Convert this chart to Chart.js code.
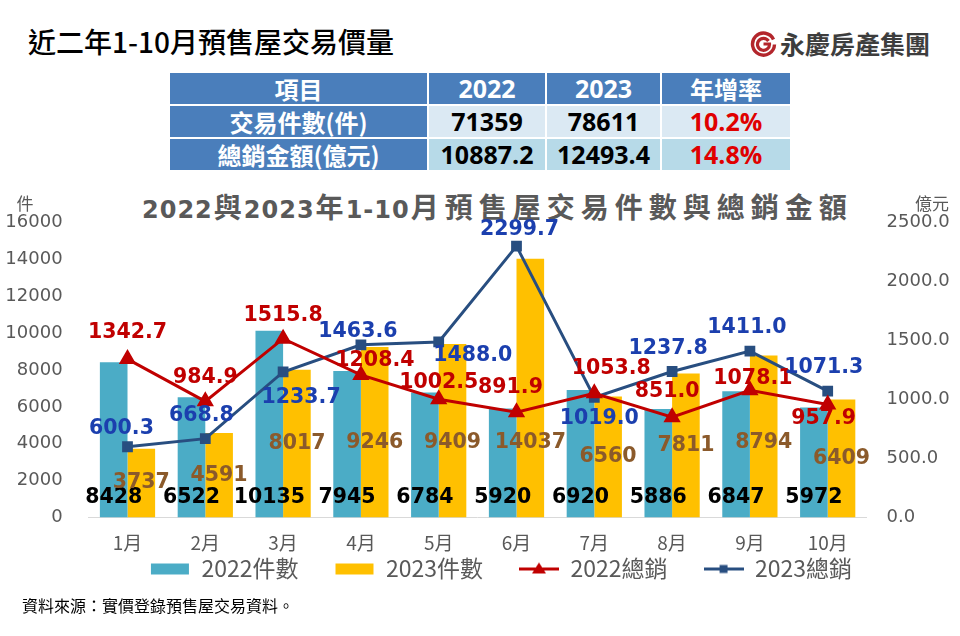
<!DOCTYPE html>
<html>
<head>
<meta charset="utf-8">
<script src="https://cdn.jsdelivr.net/npm/chart.js@4.4.0/dist/chart.umd.min.js"></script>
<style>
  body { margin:0; width:960px; height:636px; background:#fff; position:relative; overflow:hidden;
         font-family:"Noto Sans CJK TC", sans-serif; }
  #title { position:absolute; left:28px; top:21px; font-size:28px; font-weight:500; color:#000; line-height:40px; }
  #logo { position:absolute; left:750px; top:27px; height:32px; display:flex; align-items:center; }
  #logo span { font-size:25px; font-weight:700; color:#3d3d3d; margin-left:3px; line-height:32px; }
  table { position:absolute; left:168px; top:71px; border-collapse:separate; border-spacing:2px; table-layout:fixed; }
  td { height:31px; padding:0; text-align:center; font-weight:700; line-height:31px; }
  td.h { background:#4a7ebb; color:#fff; font-size:24px; }
  td.n { font-family:"Open Sans","Noto Sans CJK TC",sans-serif; font-size:25px; }
  td.h.n { font-size:25px; }
  tr.r1 td.v { background:#dbe9f3; color:#000; }
  tr.r2 td.v { background:#b7dae8; color:#000; }
  td.red { color:#e00000 !important; }
  #ctitle { position:absolute; left:142px; top:190px; color:#595959; white-space:nowrap; line-height:32px; font-weight:700; }
  #ctitle .d { font-family:"DejaVu Sans",sans-serif; font-size:24px; letter-spacing:1px; margin-right:1px; }
  #ctitle .c { font-family:"Noto Sans CJK TC",sans-serif; font-size:28px; letter-spacing:6px; margin-right:-6px; }
  #ctitle .c + .d { margin-left:2px; }
  #wrap { position:absolute; left:0; top:185px; width:960px; height:440px; }
  #src { position:absolute; left:22px; top:594px; font-size:16px; color:#000; line-height:22px; }
</style>
</head>
<body>
<div id="title">近二年1-10月預售屋交易價量</div>
<div id="logo">
  <svg width="27" height="27" viewBox="0 0 27 27">
    <path d="M23.5 9.5 A11 11 0 1 0 24.5 14.5" fill="none" stroke="#b3262c" stroke-width="3.4"/>
    <path d="M18.5 11 A6 6 0 1 0 19.5 14 L13.5 14" fill="none" stroke="#b3262c" stroke-width="3.2"/>
  </svg>
  <span>永慶房產集團</span>
</div>
<table>
  <colgroup><col style="width:257px"><col style="width:116px"><col style="width:113px"><col style="width:128px"></colgroup>
  <tr><td class="h">項目</td><td class="h n">2022</td><td class="h n">2023</td><td class="h">年增率</td></tr>
  <tr class="r1"><td class="h">交易件數(件)</td><td class="v n">71359</td><td class="v n">78611</td><td class="v n red">10.2%</td></tr>
  <tr class="r2"><td class="h">總銷金額(億元)</td><td class="v n">10887.2</td><td class="v n">12493.4</td><td class="v n red">14.8%</td></tr>
</table>
<div id="ctitle"><span class="d">2022</span><span class="c">與</span><span class="d">2023</span><span class="c">年</span><span class="d">1-10</span><span class="c">月預售屋交易件數與總銷金額</span></div>
<div id="wrap"><canvas id="chart"></canvas></div>
<div id="src">資料來源：實價登錄預售屋交易資料。</div>

<script>
// 資料
const months = ["1月", "2月", "3月", "4月", "5月", "6月", "7月", "8月", "9月", "10月"];
const count2022 = [8428, 6522, 10135, 7945, 6784, 5920, 6920, 5886, 6847, 5972];
const count2023 = [3737, 4591, 8017, 9246, 9409, 14037, 6560, 7811, 8794, 6409];
const sales2022 = [1342.7, 984.9, 1515.8, 1208.4, 1002.5, 891.9, 1053.8, 851.0, 1078.1, 957.9];
const sales2023 = [600.3, 668.8, 1233.7, 1463.6, 1488.0, 2299.7, 1019.0, 1237.8, 1411.0, 1071.3];
const countTicks = [0, 2000, 4000, 6000, 8000, 10000, 12000, 14000, 16000];
const salesTicks = [0, 500, 1000, 1500, 2000, 2500];

// 標籤位移 (px)
const redLabelDx = [0, 0, 0, 14, 0, -6, 17, -5, 3, -4];
const redLabelDy = [-26, -24, -23, -14, -17, -25, -25, -25, -12, 14];
const blueLabelDx = [-6, -4, 18, -3, 34, 3, 5, -4, -3, -4];
const blueLabelDy = [-18, -23, 26, -13, 14, -16, 21, -23, -23, -23];

const C_BAR22 = '#4bacc6', C_BAR23 = '#ffc000', C_RED = '#c00000', C_BLUE = '#284e80';

function legendIcon(kind, color) {
  const c = document.createElement('canvas');
  c.width = 40; c.height = 14;
  const g = c.getContext('2d');
  g.fillStyle = color; g.strokeStyle = color;
  if (kind === 'box') {
    g.fillRect(1, 2, 38, 11);
  } else {
    g.lineWidth = 3;
    g.beginPath(); g.moveTo(0, 7.5); g.lineTo(40, 7.5); g.stroke();
    if (kind === 'tri') {
      g.beginPath(); g.moveTo(20, 1); g.lineTo(27, 12); g.lineTo(13, 12); g.closePath(); g.fill();
    } else {
      g.fillRect(16, 3.5, 8, 8);
    }
  }
  return c;
}

const labelPlugin = {
  id: 'valueLabels',
  afterLayout(chart) {
    // 圖例往上、往右移
    const lg = chart.legend;
    lg.top -= 35; lg.bottom -= 35;
    lg.left += 21; lg.right += 21;
  },
  afterDatasetsDraw(chart) {
    const ctx = chart.ctx;
    const area = chart.chartArea;
    ctx.save();
    ctx.font = 'bold 20.5px "DejaVu Sans"';
    ctx.textAlign = 'center';
    ctx.textBaseline = 'middle';
    chart.data.datasets.forEach((ds, di) => {
      const meta = chart.getDatasetMeta(di);
      meta.data.forEach((el, i) => {
        const v = ds.data[i];
        if (di === 0) {
          ctx.fillStyle = '#000';
          ctx.fillText(String(v), el.x, area.bottom - 20);
        } else if (di === 1) {
          ctx.fillStyle = '#8b5a2b';
          ctx.fillText(String(v), el.x, Math.max((el.y + el.base) / 2, el.base - 75));
        } else if (di === 2) {
          ctx.fillStyle = '#c00000';
          ctx.fillText(v.toFixed(1), el.x + redLabelDx[i], el.y + redLabelDy[i]);
        } else {
          ctx.fillStyle = '#1b3fae';
          ctx.fillText(v.toFixed(1), el.x + blueLabelDx[i], el.y + blueLabelDy[i]);
        }
      });
    });
    // 軸單位
    ctx.font = '17px "Noto Sans CJK TC"';
    ctx.fillStyle = '#595959';
    ctx.fillText('件', 25, area.top - 19);
    ctx.fillText('億元', 932, area.top - 19);
    ctx.restore();
  }
};

const tickFont = { family: '"DejaVu Sans"', size: 18 };

new Chart(document.getElementById('chart'), {
  type: 'bar',
  data: {
    labels: months,
    datasets: [
      { label: '2022件數', data: count2022, backgroundColor: C_BAR22, yAxisID: 'y', order: 2,
        categoryPercentage: 0.71, barPercentage: 1 },
      { label: '2023件數', data: count2023, backgroundColor: C_BAR23, yAxisID: 'y', order: 2,
        categoryPercentage: 0.71, barPercentage: 1 },
      { type: 'line', label: '2022總銷', data: sales2022, yAxisID: 'y1', order: 0,
        borderColor: C_RED, backgroundColor: C_RED, borderWidth: 3, pointStyle: 'triangle',
        pointRadius: 7, pointHoverRadius: 7, tension: 0 },
      { type: 'line', label: '2023總銷', data: sales2023, yAxisID: 'y1', order: 1,
        borderColor: C_BLUE, backgroundColor: C_BLUE, borderWidth: 3, pointStyle: 'rect',
        pointRadius: 5.5, pointHoverRadius: 5.5, tension: 0 }
    ]
  },
  options: {
    responsive: true,
    maintainAspectRatio: false,
    animation: false,
    layout: { padding: { top: 37.5, left: 0, right: 0, bottom: 0 } },
    plugins: {
      legend: {
        position: 'bottom',
        labels: {
          usePointStyle: true,
          pointStyleWidth: 40,
          padding: 36,
          color: '#595959',
          font: { family: '"Noto Sans CJK TC"', size: 23 },
          generateLabels(chart) {
            const icons = [legendIcon('box', C_BAR22), legendIcon('box', C_BAR23),
                           legendIcon('tri', C_RED), legendIcon('sq', C_BLUE)];
            return chart.data.datasets.map((ds, i) => ({
              text: ds.label, pointStyle: icons[i], fillStyle: 'transparent',
              strokeStyle: 'transparent', lineWidth: 0, datasetIndex: i, fontColor: '#595959'
            }));
          }
        }
      },
      title: { display: false },
      tooltip: { enabled: false }
    },
    scales: {
      x: {
        grid: { display: false, drawTicks: false },
        border: { display: true, color: '#d9d9d9', width: 1 },
        ticks: { color: '#595959', padding: 13.6, font: { family: '"Noto Sans CJK TC"', size: 19 } },
        afterFit(scale) { scale.height = 38.4; }
      },
      y: {
        position: 'left',
        min: 0, max: 16000,
        afterBuildTicks(scale) { scale.ticks = countTicks.map(v => ({ value: v })); },
        grid: { display: false, drawTicks: false },
        border: { display: false },
        ticks: { color: '#595959', padding: 26, font: tickFont, callback: v => String(v) },
        afterFit(scale) { scale.width = 88.6; }
      },
      y1: {
        position: 'right',
        min: 0, max: 2500,
        afterBuildTicks(scale) { scale.ticks = salesTicks.map(v => ({ value: v })); },
        grid: { display: false, drawTicks: false },
        border: { display: false },
        ticks: { color: '#595959', padding: 20, font: tickFont, callback: v => Number(v).toFixed(1) },
        afterFit(scale) { scale.width = 93.4; }
      }
    }
  },
  plugins: [labelPlugin]
});
</script>
</body>
</html>
